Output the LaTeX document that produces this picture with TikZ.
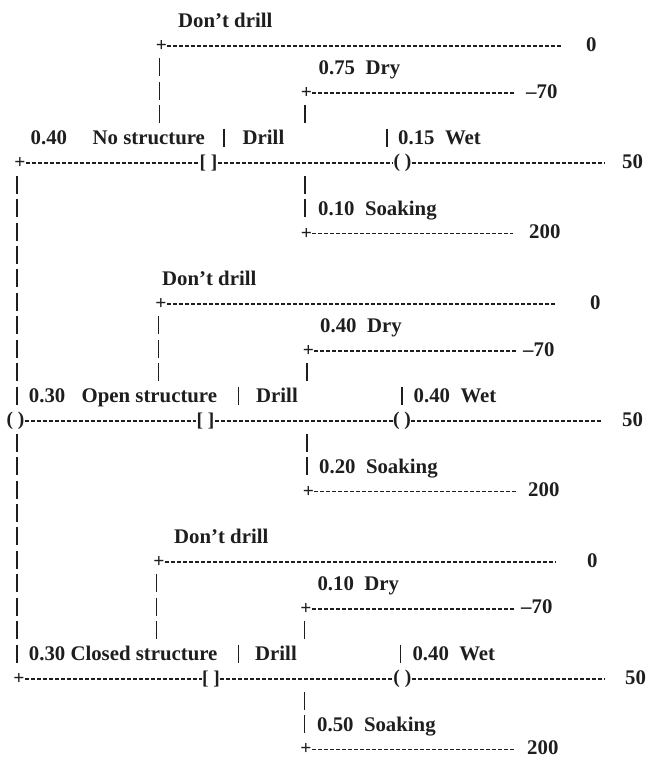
\documentclass[tikz,border=0pt]{standalone}
\usepackage{fontspec}
\setmainfont{Liberation Serif}
\definecolor{ink}{RGB}{30,30,30}
% vertical positions of the text rows (y grows downwards)
\newcommand\rowC[1]{(20.5+23.45*(#1))}
\newcommand\rowB[1]{\rowC{#1}+7.2}
\newcommand\rowD[1]{\rowC{#1}+2}
\newcommand\rowT[1]{\rowC{#1}-9}
\newcommand\rowU[1]{\rowC{#1}+9}
\begin{document}
\begin{tikzpicture}[x=1pt,y=-1pt,
  lbl/.style={anchor=base west, inner sep=0pt,
    font=\fontsize{20.8}{24}\selectfont\bfseries, text=ink},
  sym/.style={inner sep=0pt, font=\fontsize{19.5}{22}\selectfont\bfseries, text=ink},
  hline/.style={draw=ink, line width=1.8pt, dash pattern=on 4pt off 2pt},
  vline/.style={draw=ink, line width=1.6pt, dash pattern=on 18pt off 5.45pt},
]
\useasboundingbox (0,0) rectangle (646,760);

% ---------------- No structure ----------------
\node[lbl] (nd1) at (178,{\rowB{0}}) {Don’t drill};
\node[sym] (pd1) at (161.5,{\rowD{1}}) {+};
\coordinate (ed1) at (562,{\rowD{1}});
\node[lbl] (vd1) at (586,{\rowB{1}}) {0};
\draw[hline] (pd1.east) -- (ed1);
\coordinate (td1) at (159.5,{\rowT{2}});
\coordinate (ud1) at (159.5,{\rowU{4}});
\draw[vline] (td1) -- (ud1);

\node[lbl] (ny1) at (318.5,{\rowB{2}}) {0.75~~Dry};
\node[sym] (py1) at (306.5,{\rowD{3}}) {+};
\coordinate (ey1) at (515,{\rowD{3}});
\node[lbl] (vy1) at (526,{\rowB{3}}) {–70};
\draw[hline] (py1.east) -- (ey1);
\coordinate (ty1) at (305,{\rowT{4}});
\coordinate (uy1) at (305,{\rowU{4}});
\draw[vline] (ty1) -- (uy1);

\node[lbl] (pr1) at (30.5,{\rowB{5}}) {0.40};
\node[lbl] (ns1) at (92.5,{\rowB{5}}) {No structure};
\coordinate (tb1) at (224,{\rowT{5}});
\coordinate (ub1) at (224,{\rowU{5}});
\draw[vline] (tb1) -- (ub1);
\node[lbl] (dr1) at (242.5,{\rowB{5}}) {Drill};
\coordinate (tw1) at (386.7,{\rowT{5}});
\coordinate (uw1) at (386.7,{\rowU{5}});
\draw[vline] (tw1) -- (uw1);
\node[lbl] (nw1) at (398,{\rowB{5}}) {0.15~~Wet};

\node[sym] (root1) at (20,{\rowD{6}}) {+};
\node[sym] (dec1) at (208.5,{\rowD{6}}) {[ ]};
\node[sym] (ch1) at (402.5,{\rowD{6}}) {( )};
\coordinate (ew1) at (605,{\rowD{6}});
\node[lbl] (vw1) at (622,{\rowB{6}}) {50};
\draw[hline] (root1.east) -- (dec1.west);
\draw[hline] (dec1.east) -- (ch1.west);
\draw[hline] (ch1.east) -- (ew1);

\coordinate (ts1) at (305,{\rowT{7}});
\coordinate (us1) at (305,{\rowU{8}});
\draw[vline] (ts1) -- (us1);
\node[lbl] (nk1) at (318,{\rowB{8}}) {0.10~~Soaking};
\node[sym] (pk1) at (306.5,{\rowD{9}}) {+};
\coordinate (ek1) at (513,{\rowD{9}});
\node[lbl] (vk1) at (529,{\rowB{9}}) {200};
\draw[hline] (pk1.east) -- (ek1);

% left trunk
\coordinate (lt1) at (17,{\rowT{7}});
\coordinate (lu1) at (17,{\rowU{16}});
\draw[vline] (lt1) -- (lu1);

% ---------------- Open structure ----------------
\node[lbl] (nd2) at (162,{\rowB{11}}) {Don’t drill};
\node[sym] (pd2) at (161,{\rowD{12}}) {+};
\coordinate (ed2) at (556,{\rowD{12}});
\node[lbl] (vd2) at (590,{\rowB{12}}) {0};
\draw[hline] (pd2.east) -- (ed2);
\coordinate (td2) at (158.5,{\rowT{13}});
\coordinate (ud2) at (158.5,{\rowU{15}});
\draw[vline] (td2) -- (ud2);

\node[lbl] (ny2) at (320,{\rowB{13}}) {0.40~~Dry};
\node[sym] (py2) at (308.5,{\rowD{14}}) {+};
\coordinate (ey2) at (516,{\rowD{14}});
\node[lbl] (vy2) at (523,{\rowB{14}}) {–70};
\draw[hline] (py2.east) -- (ey2);
\coordinate (ty2) at (307,{\rowT{15}});
\coordinate (uy2) at (307,{\rowU{15}});
\draw[vline] (ty2) -- (uy2);

\node[lbl] (pr2) at (28.7,{\rowB{16}}) {0.30};
\node[lbl] (ns2) at (81.5,{\rowB{16}}) {Open structure};
\coordinate (tb2) at (238.3,{\rowT{16}});
\coordinate (ub2) at (238.3,{\rowU{16}});
\draw[vline] (tb2) -- (ub2);
\node[lbl] (dr2) at (256,{\rowB{16}}) {Drill};
\coordinate (tw2) at (401.8,{\rowT{16}});
\coordinate (uw2) at (401.8,{\rowU{16}});
\draw[vline] (tw2) -- (uw2);
\node[lbl] (nw2) at (413.5,{\rowB{16}}) {0.40~~Wet};

\node[sym] (root2) at (15.5,{\rowD{17}}) {( )};
\node[sym] (dec2) at (205.5,{\rowD{17}}) {[ ]};
\node[sym] (ch2) at (402,{\rowD{17}}) {( )};
\coordinate (ew2) at (602,{\rowD{17}});
\node[lbl] (vw2) at (622,{\rowB{17}}) {50};
\draw[hline] (root2.east) -- (dec2.west);
\draw[hline] (dec2.east) -- (ch2.west);
\draw[hline] (ch2.east) -- (ew2);

\coordinate (ts2) at (307,{\rowT{18}});
\coordinate (us2) at (307,{\rowU{19}});
\draw[vline] (ts2) -- (us2);
\node[lbl] (nk2) at (319,{\rowB{19}}) {0.20~~Soaking};
\node[sym] (pk2) at (308.5,{\rowD{20}}) {+};
\coordinate (ek2) at (516,{\rowD{20}});
\node[lbl] (vk2) at (528,{\rowB{20}}) {200};
\draw[hline] (pk2.east) -- (ek2);

% left trunk
\coordinate (lt2) at (17,{\rowT{18}});
\coordinate (lu2) at (17,{\rowU{27}});
\draw[vline] (lt2) -- (lu2);

% ---------------- Closed structure ----------------
\node[lbl] (nd3) at (174,{\rowB{22}}) {Don’t drill};
\node[sym] (pd3) at (159,{\rowD{23}}) {+};
\coordinate (ed3) at (556,{\rowD{23}});
\node[lbl] (vd3) at (587,{\rowB{23}}) {0};
\draw[hline] (pd3.east) -- (ed3);
\coordinate (td3) at (156.5,{\rowT{24}});
\coordinate (ud3) at (156.5,{\rowU{26}});
\draw[vline] (td3) -- (ud3);

\node[lbl] (ny3) at (317.3,{\rowB{24}}) {0.10~~Dry};
\node[sym] (py3) at (306,{\rowD{25}}) {+};
\coordinate (ey3) at (514,{\rowD{25}});
\node[lbl] (vy3) at (521,{\rowB{25}}) {–70};
\draw[hline] (py3.east) -- (ey3);
\coordinate (ty3) at (304.5,{\rowT{26}});
\coordinate (uy3) at (304.5,{\rowU{26}});
\draw[vline] (ty3) -- (uy3);

\node[lbl] (ns3) at (28.7,{\rowB{27}}) {0.30 Closed structure};
\coordinate (tb3) at (238.3,{\rowT{27}});
\coordinate (ub3) at (238.3,{\rowU{27}});
\draw[vline] (tb3) -- (ub3);
\node[lbl] (dr3) at (255,{\rowB{27}}) {Drill};
\coordinate (tw3) at (400.5,{\rowT{27}});
\coordinate (uw3) at (400.5,{\rowU{27}});
\draw[vline] (tw3) -- (uw3);
\node[lbl] (nw3) at (412.3,{\rowB{27}}) {0.40~~Wet};

\node[sym] (root3) at (19,{\rowD{28}}) {+};
\node[sym] (dec3) at (211,{\rowD{28}}) {[ ]};
\node[sym] (ch3) at (402.4,{\rowD{28}}) {( )};
\coordinate (ew3) at (604,{\rowD{28}});
\node[lbl] (vw3) at (625,{\rowB{28}}) {50};
\draw[hline] (root3.east) -- (dec3.west);
\draw[hline] (dec3.east) -- (ch3.west);
\draw[hline] (ch3.east) -- (ew3);

\coordinate (ts3) at (304.5,{\rowT{29}});
\coordinate (us3) at (304.5,{\rowU{30}});
\draw[vline] (ts3) -- (us3);
\node[lbl] (nk3) at (317,{\rowB{30}}) {0.50~~Soaking};
\node[sym] (pk3) at (306,{\rowD{31}}) {+};
\coordinate (ek3) at (514,{\rowD{31}});
\node[lbl] (vk3) at (527,{\rowB{31}}) {200};
\draw[hline] (pk3.east) -- (ek3);
\end{tikzpicture}
\end{document}
